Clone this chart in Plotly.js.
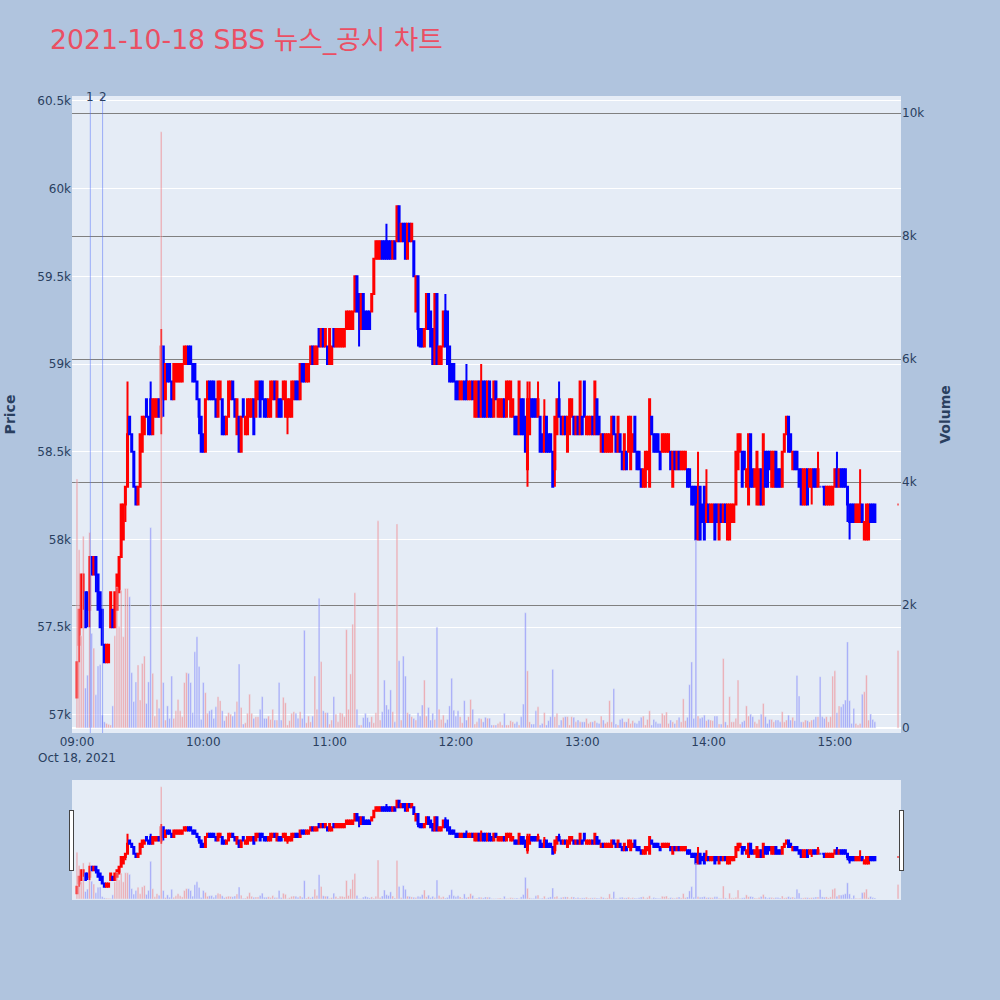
<!DOCTYPE html>
<html>
<head>
<meta charset="utf-8">
<script src="https://cdn.plot.ly/plotly-3.0.1.min.js"></script>
<style>html,body{margin:0;padding:0;background:#B0C4DE;}</style>
</head>
<body>
<div id="chart" style="width:1000px;height:1000px;"></div>
<script>
const tradeDate = '2021-10-18';
const chartTitle = '2021-10-18 SBS 뉴스_공시 차트';
const closingAuctionTime = '15:30';
const disclosureTimes = ['09:06:20', '09:12:10'];
const disclosureLabels = ['1', '2'];
const xRange = ['08:57:38', '15:31:25'];
const priceRange = [56897, 60528];
const volumeRange = [-81, 10281];

const openP = [
57100,57400,57500,57700,57700,57700,57600,57900,57800,57900,
57800,57700,57600,57400,57300,57300,57500,57600,57500,57600,
57700,57900,58000,58200,58300,58700,58600,58500,58300,58200,
58300,58500,58600,58800,58700,58800,58600,58700,58700,58800,
58700,59100,58800,59000,59000,58900,58800,58900,58900,58900,
58900,59000,59000,59100,59100,59000,59000,58900,58800,58700,
58600,58500,58800,58900,58900,58900,58800,58700,58800,58800,
58700,58600,58700,58800,58900,58800,58600,58700,58500,58800,
58600,58600,58700,58700,58800,58700,58800,58900,58900,58800,
58800,58700,58700,58800,58900,58700,58800,58800,58800,58700,
58700,58700,58700,58800,58900,58900,58800,59000,59000,58900,
58900,59000,59100,59000,59000,59200,59100,59200,59100,59100,
59000,59000,59200,59100,59100,59100,59100,59100,59200,59200,
59200,59200,59300,59500,59400,59200,59400,59300,59300,59300,
59300,59400,59600,59600,59600,59700,59700,59700,59700,59700,
59600,59700,59700,59900,59700,59800,59800,59600,59800,59700,
59700,59300,59500,59200,59200,59100,59200,59400,59300,59200,
59000,59400,59000,59000,59100,59300,59300,59100,59000,59000,
58900,58900,58800,58800,58900,58900,58800,58800,58900,58700,
58700,58900,58700,58900,58900,58700,58900,58800,58700,58900,
58700,58700,58700,58800,58700,58800,58700,58700,58700,58700,
58600,58800,58800,58700,58400,58600,58800,58800,58800,58700,
58700,58600,58500,58700,58600,58600,58500,58400,58600,58800,
58700,58600,58700,58500,58600,58700,58700,58600,58700,58600,
58700,58900,58600,58600,58600,58700,58600,58800,58700,58500,
58600,58500,58500,58500,58500,58700,58600,58500,58600,58500,
58400,58500,58500,58400,58500,58700,58500,58500,58400,58300,
58300,58400,58300,58700,58600,58600,58600,58500,58500,58500,
58500,58500,58500,58300,58500,58400,58500,58400,58400,58400,
58400,58400,58300,58300,58300,58000,58300,58200,58300,58100,
58200,58100,58100,58200,58200,58000,58200,58100,58200,58000,
58000,58100,58100,58200,58400,58500,58500,58500,58300,58200,
58600,58400,58300,58200,58200,58400,58200,58500,58500,58500,
58300,58300,58500,58400,58400,58300,58500,58600,58700,58600,
58400,58500,58500,58400,58400,58200,58200,58400,58300,58300,
58400,58400,58300,58300,58300,58300,58200,58200,58200,58200,
58300,58400,58300,58400,58400,58400,58300,58200,58200,58200,
58100,58100,58100,58200,58000,58000,58000,58200,58200,58200,
58200];

const highP = [
57300,57600,57800,57800,57700,57700,57900,57900,57900,57900,
57800,57700,57600,57400,57400,57400,57700,57600,57700,57800,
57900,58200,58200,58300,58900,58700,58600,58500,58300,58300,
58600,58700,58700,58800,58700,58900,58800,58800,58800,58800,
59200,59100,59000,59000,59000,58900,59000,59000,59000,59000,
59000,59100,59100,59100,59100,59000,59000,58900,58800,58700,
58600,58800,58900,58900,58900,58900,58800,58900,58900,58800,
58700,58700,58900,58900,58900,58800,58800,58700,58700,58800,
58700,58800,58800,58800,58800,58900,58900,58900,58900,58800,
58800,58800,58900,58900,58900,58900,58800,58800,58900,58900,
58800,58800,58900,58900,58900,58900,59000,59000,59000,59000,
59000,59100,59100,59100,59100,59200,59200,59200,59200,59100,
59200,59100,59200,59200,59200,59200,59200,59200,59300,59300,
59300,59300,59500,59500,59400,59400,59400,59300,59300,59300,
59400,59600,59700,59700,59700,59700,59700,59800,59700,59700,
59700,59700,59900,59900,59800,59800,59800,59800,59800,59800,
59700,59500,59500,59200,59200,59200,59400,59400,59300,59200,
59400,59400,59100,59100,59300,59400,59300,59100,59000,59000,
58900,58900,58900,58900,58900,59000,58900,58900,58900,58900,
58900,58900,59000,58900,58900,58900,58900,58800,58900,58900,
58800,58800,58800,58800,58900,58900,58900,58800,58700,58700,
58900,58800,58800,58700,58900,58900,58800,58800,58800,58900,
58700,58600,58800,58700,58600,58600,58500,58700,58800,58900,
58700,58700,58700,58700,58800,58800,58700,58700,58700,58900,
58700,58900,58700,58700,58700,58700,58900,58800,58700,58600,
58600,58600,58600,58600,58700,58700,58600,58700,58600,58500,
58600,58500,58700,58700,58600,58700,58500,58500,58400,58400,
58500,58500,58800,58700,58600,58600,58600,58500,58600,58600,
58600,58600,58500,58500,58500,58500,58500,58500,58500,58500,
58400,58400,58300,58300,58300,58500,58300,58200,58300,58400,
58200,58200,58200,58200,58200,58200,58200,58200,58200,58200,
58200,58200,58200,58500,58600,58600,58500,58500,58400,58600,
58600,58400,58400,58500,58400,58400,58600,58500,58500,58500,
58500,58500,58500,58400,58400,58500,58600,58700,58700,58600,
58500,58500,58500,58400,58400,58400,58400,58400,58400,58400,
58400,58400,58500,58300,58300,58300,58300,58300,58300,58300,
58400,58500,58400,58400,58400,58400,58300,58200,58200,58200,
58200,58200,58400,58200,58100,58200,58200,58200,58200,58200,
58200];

const lowP = [
57100,57300,57500,57600,57500,57500,57500,57800,57800,57700,
57600,57500,57400,57300,57300,57300,57500,57500,57500,57600,
57700,57900,58000,58100,58300,58600,58500,58300,58200,58200,
58300,58500,58600,58700,58600,58600,58600,58700,58700,58700,
58600,58700,58800,58900,58900,58800,58800,58900,58900,58900,
58900,59000,59000,59000,59000,58900,58900,58800,58600,58500,
58500,58500,58800,58800,58800,58800,58700,58700,58800,58600,
58600,58600,58700,58800,58800,58700,58600,58500,58500,58700,
58600,58600,58700,58700,58600,58700,58800,58700,58800,58700,
58700,58700,58700,58800,58800,58700,58700,58700,58800,58700,
58600,58700,58700,58800,58800,58800,58800,58900,58900,58900,
58900,59000,59000,59000,59000,59100,59100,59100,59100,59000,
59000,59000,59100,59100,59100,59100,59100,59100,59200,59200,
59200,59200,59300,59300,59100,59200,59200,59200,59200,59200,
59300,59400,59600,59600,59600,59600,59600,59600,59600,59600,
59600,59600,59700,59700,59700,59700,59600,59600,59700,59700,
59500,59300,59100,59100,59100,59100,59200,59200,59100,59000,
59000,59000,59000,59000,59100,59100,59000,58900,58900,58900,
58800,58800,58800,58800,58800,58800,58800,58800,58800,58700,
58700,58700,58700,58700,58700,58700,58700,58700,58700,58800,
58700,58700,58700,58700,58700,58800,58700,58700,58600,58600,
58600,58600,58600,58500,58300,58600,58700,58700,58700,58700,
58500,58500,58500,58500,58500,58500,58300,58300,58600,58700,
58600,58600,58600,58500,58600,58700,58600,58600,58600,58600,
58600,58700,58600,58600,58600,58600,58600,58600,58600,58500,
58500,58500,58500,58500,58500,58600,58500,58500,58500,58400,
58400,58400,58500,58400,58500,58500,58400,58400,58300,58300,
58300,58400,58300,58600,58500,58500,58500,58400,58500,58500,
58500,58500,58400,58300,58400,58400,58400,58400,58400,58400,
58300,58300,58200,58200,58000,58000,58000,58100,58000,58100,
58100,58100,58100,58000,58100,58000,58100,58100,58100,58000,
58000,58100,58100,58200,58400,58500,58300,58400,58300,58200,
58300,58300,58300,58200,58200,58200,58200,58300,58300,58400,
58300,58300,58300,58300,58300,58300,58500,58600,58500,58500,
58400,58400,58400,58300,58200,58200,58200,58200,58300,58200,
58300,58300,58300,58300,58300,58200,58200,58200,58200,58200,
58300,58300,58300,58300,58300,58300,58100,58000,58100,58100,
58100,58100,58100,58100,58000,58000,58000,58100,58100,58100,
58200];

const closeP = [
57300,57600,57800,57800,57500,57600,57900,57800,57900,57800,
57600,57500,57400,57300,57400,57400,57700,57500,57700,57800,
57900,58200,58200,58300,58600,58600,58500,58300,58200,58300,
58600,58700,58700,58700,58600,58600,58800,58800,58800,58700,
59100,58800,59000,58900,58900,58800,59000,59000,59000,59000,
59000,59100,59100,59000,59000,58900,58900,58800,58700,58500,
58500,58800,58900,58800,58800,58800,58700,58900,58900,58600,
58600,58700,58900,58900,58800,58700,58800,58500,58700,58700,
58700,58800,58800,58800,58600,58900,58900,58700,58800,58700,
58700,58800,58900,58900,58800,58900,58700,58700,58900,58900,
58800,58800,58900,58900,58800,58800,59000,58900,58900,59000,
59000,59100,59000,59100,59100,59100,59200,59100,59200,59000,
59200,59100,59100,59200,59200,59200,59200,59200,59300,59300,
59300,59300,59500,59300,59300,59400,59200,59200,59200,59200,
59400,59600,59700,59700,59700,59600,59600,59600,59600,59600,
59700,59600,59900,59700,59800,59700,59600,59800,59700,59800,
59500,59500,59200,59100,59100,59200,59400,59200,59100,59000,
59400,59000,59100,59100,59300,59100,59000,58900,58900,58900,
58800,58800,58900,58900,58800,58800,58900,58900,58800,58900,
58900,58700,58900,58700,58700,58900,58700,58700,58900,58800,
58800,58800,58800,58700,58900,58900,58900,58800,58600,58600,
58900,58600,58600,58500,58800,58800,58700,58700,58700,58800,
58500,58500,58700,58500,58500,58500,58300,58700,58800,58700,
58600,58700,58600,58700,58800,58800,58600,58700,58600,58900,
58600,58700,58700,58700,58700,58600,58900,58600,58600,58600,
58500,58600,58600,58600,58700,58600,58500,58700,58500,58400,
58600,58400,58700,58700,58600,58500,58400,58400,58300,58400,
58500,58500,58800,58600,58500,58500,58500,58400,58600,58600,
58600,58600,58400,58500,58400,58500,58400,58500,58500,58500,
58300,58300,58200,58200,58000,58200,58000,58100,58000,58200,
58100,58200,58200,58000,58100,58200,58100,58200,58100,58200,
58200,58200,58200,58500,58600,58600,58300,58400,58400,58600,
58300,58300,58400,58500,58400,58200,58600,58300,58300,58400,
58500,58500,58300,58300,58300,58500,58600,58700,58500,58500,
58500,58400,58400,58300,58200,58400,58400,58200,58400,58400,
58300,58300,58400,58300,58300,58200,58300,58300,58300,58300,
58400,58300,58400,58300,58300,58300,58200,58100,58100,58100,
58200,58200,58200,58100,58100,58200,58200,58100,58100,58100,
58200];

const volume = [
4050,2900,1500,3120,650,860,3180,1540,1300,540,
1010,1035,210,100,75,60,50,360,1500,2290,
1650,2240,1485,2270,2270,2135,900,430,750,1025,
455,1050,1170,400,750,3260,890,195,465,320,
9700,740,130,360,157,845,157,280,465,280,
185,740,900,890,740,250,1240,1485,1000,140,
740,575,240,280,300,157,345,510,445,280,
120,195,250,225,195,265,430,1040,335,65,
85,240,550,240,157,185,185,305,510,157,
157,195,140,305,130,130,740,130,500,410,
50,120,240,265,240,157,265,157,1590,85,
195,100,195,845,305,2110,1080,280,250,250,
65,130,510,225,100,250,240,185,1600,305,
880,1690,2200,305,50,50,170,240,170,100,
185,85,250,3370,130,265,780,375,305,620,
265,100,3320,1095,130,1170,845,250,228,185,
157,130,250,195,375,780,195,335,130,240,
140,1640,305,140,210,85,140,360,810,290,
195,280,185,85,445,130,185,465,305,65,
100,160,150,100,175,160,160,50,50,50,
75,100,50,240,50,50,120,100,75,100,
50,185,390,1875,930,100,65,65,280,345,
50,75,250,50,120,185,955,185,240,50,
130,175,185,185,50,185,175,100,130,100,
100,100,157,75,100,100,120,85,75,195,
130,75,100,445,100,640,65,50,140,157,
100,100,157,75,120,85,75,120,175,195,
50,140,280,50,140,100,75,75,240,210,
260,75,130,100,75,130,175,100,475,120,
175,705,1075,157,3055,195,157,175,210,120,
140,130,120,195,195,65,65,1130,100,50,
510,100,100,157,780,65,100,120,360,195,
225,185,100,75,140,225,400,185,75,140,
140,100,130,130,100,265,100,130,210,130,
175,120,855,520,100,100,130,120,100,130,
140,185,185,835,185,157,185,100,185,845,
930,250,360,345,390,455,1400,445,75,320,
75,50,75,550,590,860,130,228,140,100,
1260];

// one timestamp per regular-session minute from 09:00, then the closing auction print
const times = [];
for (let i = 0; i < openP.length - 1; i++) {
  const h = 9 + Math.floor(i / 60), m = i % 60;
  times.push(tradeDate + ' ' + String(h).padStart(2, '0') + ':' + String(m).padStart(2, '0'));
}
times.push(tradeDate + ' ' + closingAuctionTime);

const UP = 'rgba(255,0,0,0.3)', DOWN = 'rgba(0,0,255,0.3)';
const volColors = closeP.map((c, i) => {
  const o = openP[i];
  const up = c > o || (c === o && i > 0 && c > closeP[i - 1]);
  return up ? UP : DOWN;
});

const fullX = xRange.map(t => tradeDate + ' ' + t);

const traces = [
  {
    type: 'candlestick', x: times, open: openP, high: highP, low: lowP, close: closeP,
    increasing: {line: {color: '#FF0000', width: 2}, fillcolor: '#FF0000'},
    decreasing: {line: {color: '#0000FF', width: 2}, fillcolor: '#0000FF'},
    name: 'Price', xaxis: 'x', yaxis: 'y'
  },
  {
    type: 'bar', x: times, y: volume, name: 'Volume', yaxis: 'y2',
    marker: {color: volColors, line: {color: '#E5ECF6', width: 0.5}}
  }
];

const shapes = disclosureTimes.map(t => ({
  type: 'line', xref: 'x', yref: 'paper', x0: tradeDate + ' ' + t, x1: tradeDate + ' ' + t, y0: 0, y1: 1,
  line: {color: 'rgba(80,110,250,0.5)', width: 1}
}));
const annotations = disclosureTimes.map((t, i) => ({
  x: tradeDate + ' ' + t, xref: 'x', y: 1, yref: 'paper', yanchor: 'middle', yshift: -1,
  text: disclosureLabels[i], showarrow: false, font: {size: 12, color: '#2a3f5f'}
}));

const layout = {
  width: 1000, height: 1000,
  paper_bgcolor: '#B0C4DE', plot_bgcolor: '#E5ECF6',
  font: {family: 'DejaVu Sans, Verdana, Noto Sans CJK KR, sans-serif', size: 12, color: '#2a3f5f'},
  title: {text: chartTitle, x: 0.05, xanchor: 'left', xref: 'container', y: 0.96, yanchor: 'middle', yref: 'container',
          font: {size: 26.7, color: '#EB4F63'}},
  margin: {l: 72, r: 99, t: 96, b: 267, autoexpand: false},
  showlegend: false,
  bargap: 0.2,
  xaxis: {
    type: 'date', range: fullX, autorange: false, showgrid: false, zeroline: false, ticks: '', showline: false,
    rangeslider: {visible: true, range: fullX, autorange: false, thickness: 0.1884, bgcolor: '#E5ECF6', borderwidth: 0,
                  yaxis: {rangemode: 'match'}, yaxis2: {rangemode: 'match'}}
  },
  yaxis: {
    range: priceRange, autorange: false, gridcolor: 'white', zeroline: false, ticks: '', showline: false,
    automargin: true, title: {text: '<b>Price</b>', font: {size: 14}, standoff: 18}
  },
  yaxis2: {
    overlaying: 'y', side: 'right', range: volumeRange, autorange: false,
    gridcolor: 'gray', zeroline: true, zerolinecolor: 'white', zerolinewidth: 2, ticks: '', showline: false,
    automargin: true, title: {text: '<b>Volume</b>', font: {size: 14}, standoff: 16}
  },
  shapes: shapes,
  annotations: annotations
};

Plotly.newPlot('chart', traces, layout, {displayModeBar: false, responsive: false});
</script>
</body>
</html>
